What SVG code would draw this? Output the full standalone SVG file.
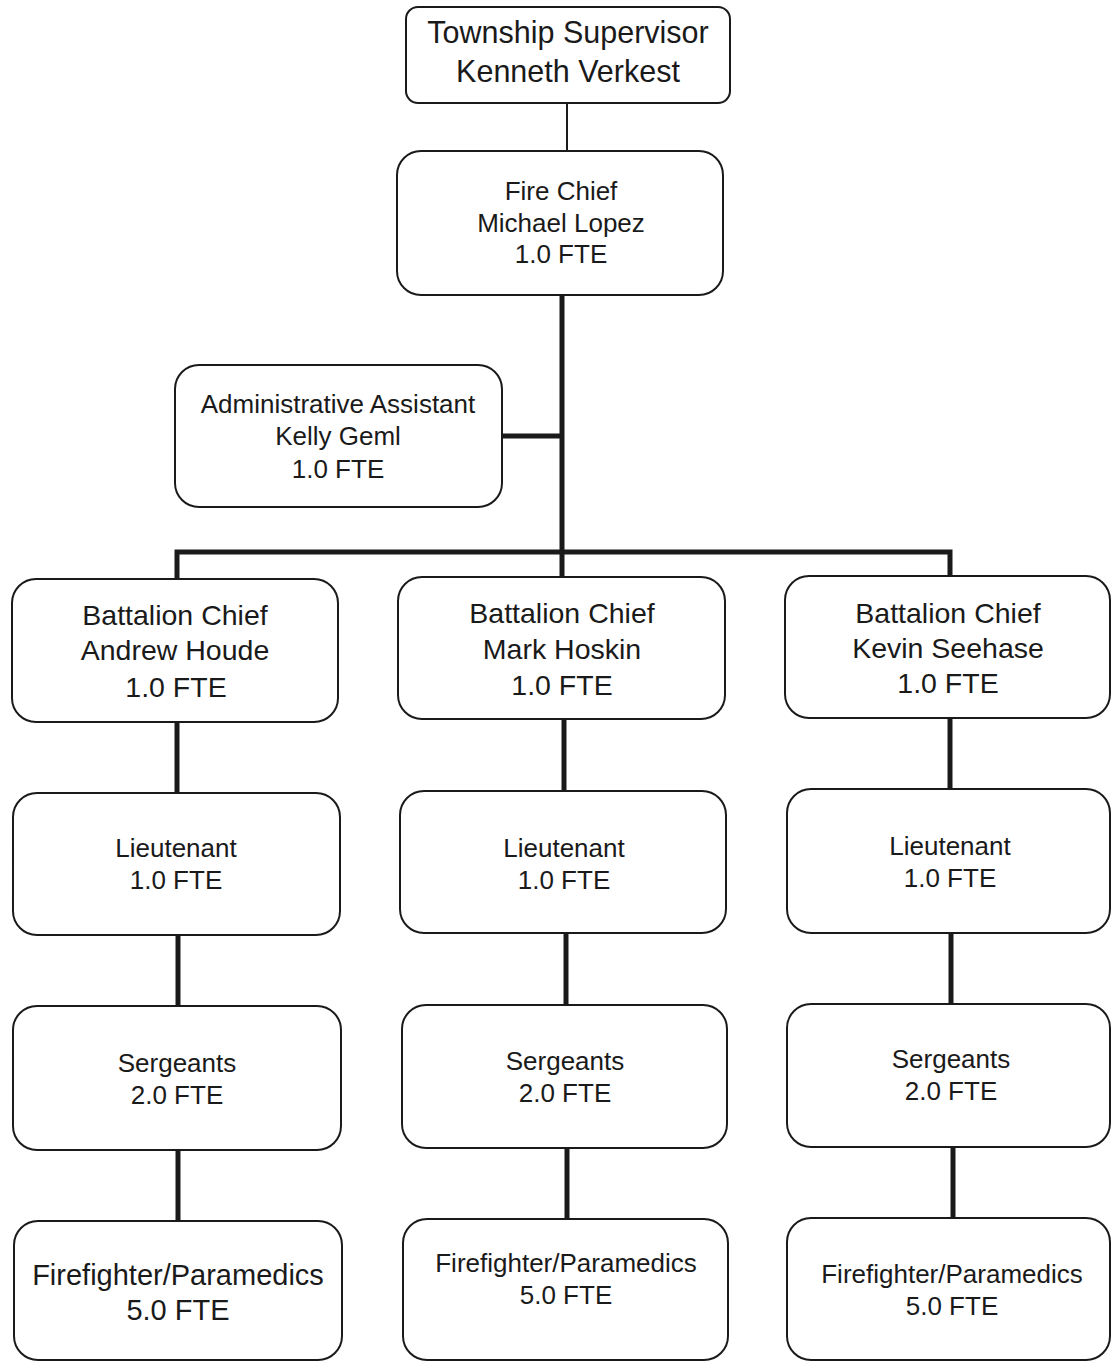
<svg xmlns="http://www.w3.org/2000/svg" width="1112" height="1362" viewBox="0 0 1112 1362">
  <style>
    .box { fill: #ffffff; stroke: #1a1a1a; stroke-width: 2; }
    .lbl { font-family: "Liberation Sans", Arial, sans-serif; fill: #1a1a1a; text-anchor: middle; }
    .wire { stroke: #1a1a1a; stroke-width: 5; fill: none; }
    .thin { stroke: #1a1a1a; stroke-width: 2; fill: none; }
  </style>
  <rect width="1112" height="1362" fill="#ffffff"/>

  <!-- connectors -->
  <g id="connectors">
    <line class="thin" x1="567" y1="103" x2="567" y2="151"/>
    <line class="wire" x1="562" y1="295" x2="562" y2="578"/>
    <line class="wire" x1="502" y1="436" x2="562" y2="436"/>
    <polyline class="wire" points="177,579 177,552 950,552 950,576"/>
    <line class="wire" x1="177" y1="722" x2="177" y2="793"/>
    <line class="wire" x1="178" y1="935" x2="178" y2="1006"/>
    <line class="wire" x1="178" y1="1150" x2="178" y2="1221"/>
    <line class="wire" x1="564" y1="719" x2="564" y2="791"/>
    <line class="wire" x1="566" y1="933" x2="566" y2="1005"/>
    <line class="wire" x1="567" y1="1148" x2="567" y2="1219"/>
    <line class="wire" x1="950" y1="718" x2="950" y2="789"/>
    <line class="wire" x1="951" y1="933" x2="951" y2="1004"/>
    <line class="wire" x1="953" y1="1147" x2="953" y2="1218"/>
  </g>

  <!-- top level -->
  <g id="township-supervisor">
    <rect class="box" x="406" y="7" width="324" height="96" rx="12"/>
    <text class="lbl" font-size="30.5" x="568" y="43">Township Supervisor</text>
    <text class="lbl" font-size="30.5" x="568" y="82">Kenneth Verkest</text>
  </g>

  <g id="fire-chief">
    <rect class="box" x="397" y="151" width="326" height="144" rx="24"/>
    <text class="lbl" font-size="26" x="561" y="200">Fire Chief</text>
    <text class="lbl" font-size="26" x="561" y="232">Michael Lopez</text>
    <text class="lbl" font-size="26" x="561" y="263">1.0 FTE</text>
  </g>

  <g id="admin-assistant">
    <rect class="box" x="175" y="365" width="327" height="142" rx="24"/>
    <text class="lbl" font-size="26" x="338" y="413">Administrative Assistant</text>
    <text class="lbl" font-size="26" x="338" y="445">Kelly Geml</text>
    <text class="lbl" font-size="26" x="338" y="478">1.0 FTE</text>
  </g>

  <!-- column 1 -->
  <g id="bc-houde">
    <rect class="box" x="12" y="579" width="326" height="143" rx="24"/>
    <text class="lbl" font-size="28.5" x="175" y="625">Battalion Chief</text>
    <text class="lbl" font-size="28.5" x="175" y="660">Andrew Houde</text>
    <text class="lbl" font-size="28.5" x="176" y="697">1.0 FTE</text>
  </g>
  <g id="lt-1">
    <rect class="box" x="13" y="793" width="327" height="142" rx="24"/>
    <text class="lbl" font-size="26" x="176" y="857">Lieutenant</text>
    <text class="lbl" font-size="26" x="176" y="889">1.0 FTE</text>
  </g>
  <g id="sgt-1">
    <rect class="box" x="13" y="1006" width="328" height="144" rx="24"/>
    <text class="lbl" font-size="26" x="177" y="1072">Sergeants</text>
    <text class="lbl" font-size="26" x="177" y="1104">2.0 FTE</text>
  </g>
  <g id="ff-1">
    <rect class="box" x="14" y="1221" width="328" height="139" rx="24"/>
    <text class="lbl" font-size="29" x="178" y="1285">Firefighter/Paramedics</text>
    <text class="lbl" font-size="29" x="178" y="1320">5.0 FTE</text>
  </g>

  <!-- column 2 -->
  <g id="bc-hoskin">
    <rect class="box" x="398" y="577" width="327" height="142" rx="24"/>
    <text class="lbl" font-size="28.5" x="562" y="623">Battalion Chief</text>
    <text class="lbl" font-size="28.5" x="562" y="659">Mark Hoskin</text>
    <text class="lbl" font-size="28.5" x="562" y="695">1.0 FTE</text>
  </g>
  <g id="lt-2">
    <rect class="box" x="400" y="791" width="326" height="142" rx="24"/>
    <text class="lbl" font-size="26" x="564" y="857">Lieutenant</text>
    <text class="lbl" font-size="26" x="564" y="889">1.0 FTE</text>
  </g>
  <g id="sgt-2">
    <rect class="box" x="402" y="1005" width="325" height="143" rx="24"/>
    <text class="lbl" font-size="26" x="565" y="1070">Sergeants</text>
    <text class="lbl" font-size="26" x="565" y="1102">2.0 FTE</text>
  </g>
  <g id="ff-2">
    <rect class="box" x="403" y="1219" width="325" height="141" rx="24"/>
    <text class="lbl" font-size="26" x="566" y="1272">Firefighter/Paramedics</text>
    <text class="lbl" font-size="26" x="566" y="1304">5.0 FTE</text>
  </g>

  <!-- column 3 -->
  <g id="bc-seehase">
    <rect class="box" x="785" y="576" width="325" height="142" rx="24"/>
    <text class="lbl" font-size="28.5" x="948" y="623">Battalion Chief</text>
    <text class="lbl" font-size="28.5" x="948" y="658">Kevin Seehase</text>
    <text class="lbl" font-size="28.5" x="948" y="693">1.0 FTE</text>
  </g>
  <g id="lt-3">
    <rect class="box" x="787" y="789" width="323" height="144" rx="24"/>
    <text class="lbl" font-size="26" x="950" y="855">Lieutenant</text>
    <text class="lbl" font-size="26" x="950" y="887">1.0 FTE</text>
  </g>
  <g id="sgt-3">
    <rect class="box" x="787" y="1004" width="323" height="143" rx="24"/>
    <text class="lbl" font-size="26" x="951" y="1068">Sergeants</text>
    <text class="lbl" font-size="26" x="951" y="1100">2.0 FTE</text>
  </g>
  <g id="ff-3">
    <rect class="box" x="787" y="1218" width="323" height="142" rx="24"/>
    <text class="lbl" font-size="26" x="952" y="1283">Firefighter/Paramedics</text>
    <text class="lbl" font-size="26" x="952" y="1315">5.0 FTE</text>
  </g>
</svg>
